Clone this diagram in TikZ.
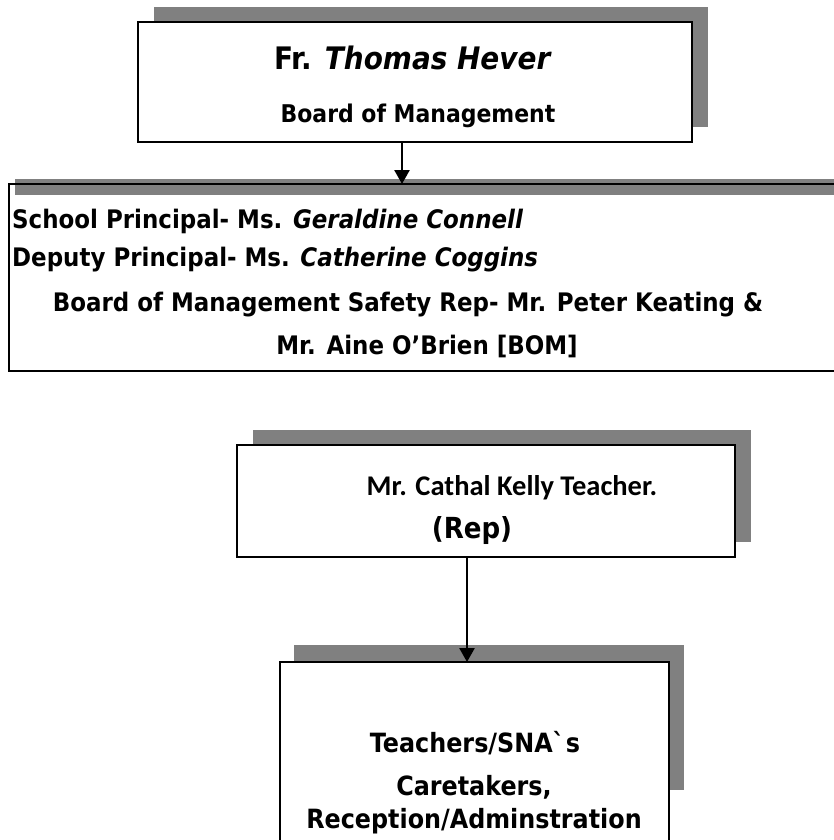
\documentclass[tikz,border=0pt]{standalone}
\usepackage{fontspec}
\setmainfont[FakeStretch=0.9]{DejaVu Sans}
\newfontfamily\calibrifont{Carlito}
\usetikzlibrary{arrows.meta}

\tikzset{
  orgbox/.style={draw, line width=2pt, fill=white, inner sep=0pt, outer sep=0pt},
  shadowfill/.style={fill=gray, draw=none},
  link/.style={line width=2.6pt, -{Triangle[width=15pt,length=14pt]}},
  txt/.style={inner sep=0pt, anchor=base, font=\bfseries\fontsize{25.5}{29}\selectfont},
}

\begin{document}
\begin{tikzpicture}[x=1pt,y=-1pt]
    \useasboundingbox (0,0) rectangle (834,840);
    \clip (0,0) rectangle (834,840);

    % board of management
    \fill[shadowfill] (154,7) rectangle (708,127);
    \node[orgbox, minimum width=554pt, minimum height=120pt] (board) at (415,82) {};
    \node[txt, font=\bfseries\fontsize{31}{35}\selectfont] (hever) at (413,70) {Fr. \textit{Thomas Hever}};
    \node[txt, font=\bfseries\fontsize{24.4}{28}\selectfont] (bom) at (418,122) {Board of Management};

    % principal / deputy
    \fill[shadowfill] (15,179) rectangle (834,195);
    \node[orgbox, fill=none, minimum width=860pt, minimum height=187pt, anchor=north west] (school) at (9,184) {};
    \node[txt, anchor=base west] (princ) at (12,228) {School Principal- Ms. \textit{Geraldine Connell}};
    \node[txt, anchor=base west] (deputy) at (12,266) {Deputy Principal- Ms. \textit{Catherine Coggins}};
    \node[txt] (safety) at (408,311) {Board of Management Safety Rep- Mr. Peter Keating \&};
    \node[txt] (obrien) at (427,354) {Mr. Aine O’Brien [BOM]};

    % teacher rep
    \fill[shadowfill] (253,430) rectangle (751,542);
    \node[orgbox, minimum width=498pt, minimum height=112pt] (rep) at (486,501) {};
    \node[txt, font=\calibrifont\bfseries\fontsize{28.5}{32}\selectfont] (kelly) at (512,495) {Mr. Cathal Kelly Teacher.};
    \node[txt, font=\bfseries\fontsize{29}{33}\selectfont] (reptag) at (472,538) {(Rep)};

    % staff
    \fill[shadowfill] (294,645) rectangle (684,790);
    \node[orgbox, minimum width=389pt, minimum height=220pt, anchor=north west] (staff) at (280,662) {};
    \node[txt, font=\bfseries\fontsize{26.5}{30}\selectfont] (sna) at (475,752) {Teachers/SNA\textasciigrave s};
    \node[txt, font=\bfseries\fontsize{26.5}{30}\selectfont] (care) at (474,795) {Caretakers,};
    \node[txt, font=\bfseries\fontsize{26.5}{30}\selectfont] (admin) at (474,828) {Reception/Adminstration};

    \coordinate (a1) at (402,0);
    \coordinate (a2) at (467,0);
    \draw[link] (a1 |- board.south) -- (a1 |- school.north);
    \draw[link] (a2 |- rep.south) -- (a2 |- staff.north);
\end{tikzpicture}
\end{document}
